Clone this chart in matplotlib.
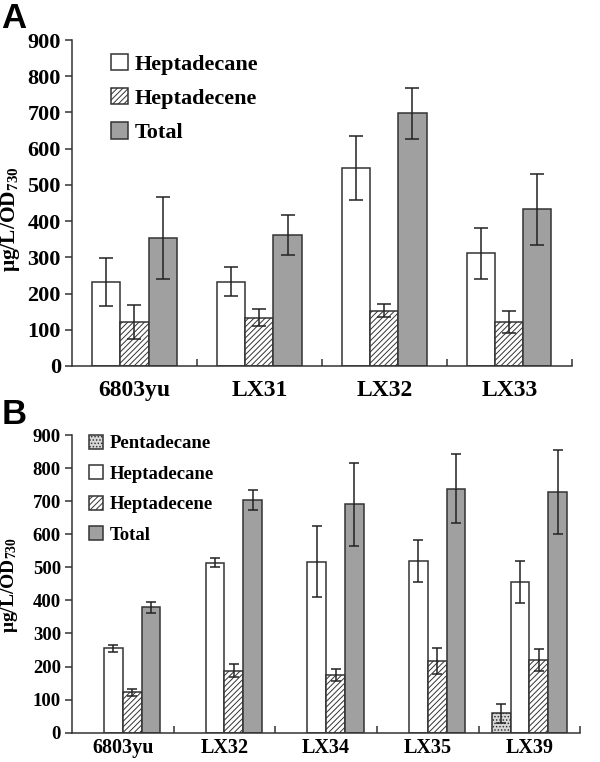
import matplotlib
matplotlib.use('Agg')
import matplotlib.pyplot as plt
import numpy as np

# panel A
strains_a = ['6803yu', 'LX31', 'LX32', 'LX33']
heptadecane_a = [233, 233, 546, 311]
heptadecane_a_err = [66, 40, 88, 71]
heptadecene_a = [122, 133, 153, 122]
heptadecene_a_err = [47, 23, 18, 31]
total_a = [354, 362, 698, 433]
total_a_err = [113, 55, 70, 98]

# panel B
strains_b = ['6803yu', 'LX32', 'LX34', 'LX35', 'LX39']
pentadecane_b = [0, 0, 0, 0, 59]
pentadecane_b_err = [0, 0, 0, 0, 29]
heptadecane_b = [255, 514, 517, 519, 456]
heptadecane_b_err = [10, 14, 108, 64, 64]
heptadecene_b = [122, 187, 174, 216, 220]
heptadecene_b_err = [10, 20, 19, 40, 34]
total_b = [379, 703, 690, 738, 728]
total_b_err = [16, 31, 126, 104, 126]

yticks = [0, 100, 200, 300, 400, 500, 600, 700, 800, 900]

plt.rcParams['font.family'] = ['Liberation Serif', 'DejaVu Serif']
plt.rcParams['font.weight'] = 'bold'
plt.rcParams['mathtext.fontset'] = 'custom'
plt.rcParams['mathtext.rm'] = 'Liberation Serif'
plt.rcParams['mathtext.it'] = 'Liberation Serif'
plt.rcParams['mathtext.default'] = 'rm'
plt.rcParams['hatch.linewidth'] = 0.7
plt.rcParams['hatch.color'] = '#444444'

EDGE = '#333333'
styles = {
    'Pentadecane': dict(color='#d8d8d8', hatch='.....'),
    'Heptadecane': dict(color='white', hatch=None),
    'Heptadecene': dict(color='white', hatch='//////'),
    'Total': dict(color='#a0a0a0', hatch=None),
}


def draw_panel(ax, strains, series, width, capsize, fs_x, fs_y, fs_lab, xpad):
    n = len(strains)
    x = np.arange(n)
    k = len(series)
    for i, (name, vals, errs) in enumerate(series):
        off = (i - (k - 1) / 2) * width
        st = styles[name]
        mask = np.array(vals) > 0
        ax.bar(x[mask] + off, np.array(vals)[mask], width, color=st['color'],
               hatch=st['hatch'], edgecolor=EDGE, linewidth=1.1, label=name)
        ax.errorbar(x[mask] + off, np.array(vals)[mask], yerr=np.array(errs)[mask],
                    fmt='none', ecolor='#222222', elinewidth=1.1,
                    capsize=capsize, capthick=1.1)
    ax.set_xlim(-0.5, n - 0.5)
    ax.set_ylim(0, 900)
    ax.set_yticks(yticks)
    ax.spines['top'].set_visible(False)
    ax.spines['right'].set_visible(False)
    for s in ['left', 'bottom']:
        ax.spines[s].set_color('#333333')
        ax.spines[s].set_linewidth(1.1)
    ax.set_xticks(x)
    ax.set_xticklabels(strains, fontsize=fs_x, fontweight='bold')
    ax.tick_params(axis='x', which='major', length=0, pad=xpad)
    ax.set_xticks(np.arange(n) + 0.5, minor=True)
    ax.tick_params(axis='x', which='minor', direction='in', length=5,
                   width=1.1, color='#333333')
    ax.tick_params(axis='y', direction='out', length=5, width=1.1,
                   color='#333333', labelsize=fs_y, pad=3)
    for t in ax.get_yticklabels():
        t.set_fontweight('bold')
    ax.set_ylabel('μg/L/OD$_{730}$', fontsize=fs_lab, fontweight='bold')


fig = plt.figure(figsize=(6, 7.62), dpi=100)

ax_a = fig.add_axes([0.12, 0.5197, 0.833, 0.4278])
draw_panel(ax_a, strains_a, [
    ('Heptadecane', heptadecane_a, heptadecane_a_err),
    ('Heptadecene', heptadecene_a, heptadecene_a_err),
    ('Total', total_a, total_a_err),
], 0.225, 5, 17, 16, 15.5, 10)
ax_a.yaxis.set_label_coords(-0.1, 0.45)
ax_a.legend(frameon=False, loc='upper left', bbox_to_anchor=(0.06, 0.985),
            fontsize=16, handlelength=0.75, handleheight=0.75,
            labelspacing=0.6, handletextpad=0.3, borderaxespad=0)

ax_b = fig.add_axes([0.12, 0.0385, 0.847, 0.3906])
draw_panel(ax_b, strains_b, [
    ('Pentadecane', pentadecane_b, pentadecane_b_err),
    ('Heptadecane', heptadecane_b, heptadecane_b_err),
    ('Heptadecene', heptadecene_b, heptadecene_b_err),
    ('Total', total_b, total_b_err),
], 0.185, 3.5, 14.5, 13.5, 14, 4)
ax_b.yaxis.set_label_coords(-0.102, 0.496)
ax_b.legend(frameon=False, loc='upper left', bbox_to_anchor=(0.018, 1.025),
            fontsize=13.5, handlelength=0.75, handleheight=0.75,
            labelspacing=0.69, handletextpad=0.35, borderaxespad=0)

fig.text(0.002, 0.998, 'A', fontsize=25, fontweight='bold',
         family='Liberation Sans', va='top', ha='left')
fig.text(0.002, 0.478, 'B', fontsize=25, fontweight='bold',
         family='Liberation Sans', va='top', ha='left')

fig.savefig('out.png', dpi=100)
